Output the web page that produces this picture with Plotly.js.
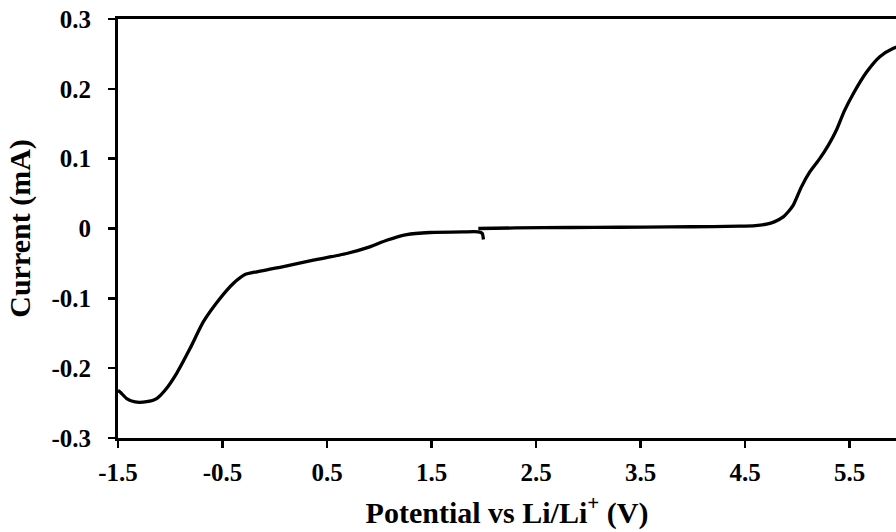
<!DOCTYPE html>
<html>
<head>
<meta charset="utf-8">
<script src="https://cdn.plot.ly/plotly-3.0.1.min.js"></script>
<style>
html,body{margin:0;padding:0;background:#fff;overflow:hidden;}
#chart{width:896px;height:532px;}
</style>
</head>
<body>
<div id="chart"></div>
<script>
// Segment 1: cathodic scan (OCV down to -1.5 V)
const potential1 = [-1.5, -1.48, -1.417, -1.337, -1.225, -1.13, -1.05, -0.94, -0.811, -0.684, -0.524, -0.397, -0.285, -0.173, -0.045, 0.05, 0.369, 0.688, 0.909, 1.071, 1.263, 1.486, 1.805, 1.948, 1.985, 1.997];
const current1   = [-0.232, -0.234, -0.2436, -0.2484, -0.248, -0.2436, -0.2317, -0.2077, -0.172, -0.1338, -0.1003, -0.0788, -0.066, -0.062, -0.0583, -0.0555, -0.0454, -0.0358, -0.0263, -0.0168, -0.0086, -0.0057, -0.0048, -0.0048, -0.007, -0.0158];
// Segment 2: anodic scan (OCV up to high potential)
const potential2 = [1.948, 2.3, 2.825, 3.3, 3.78, 4.2, 4.45, 4.6, 4.707, 4.78, 4.866, 4.92, 4.962, 5.04, 5.12, 5.215, 5.297, 5.375, 5.45, 5.536, 5.664, 5.79, 5.92, 6.0];
const current2   = [0.0, 0.0008, 0.0014, 0.0018, 0.0023, 0.0028, 0.0033, 0.0042, 0.0062, 0.0095, 0.0166, 0.025, 0.0334, 0.0596, 0.081, 0.100, 0.119, 0.141, 0.168, 0.193, 0.224, 0.246, 0.258, 0.262];

const xTicks = [-1.5, -0.5, 0.5, 1.5, 2.5, 3.5, 4.5, 5.5];
const yTicks = [-0.3, -0.2, -0.1, 0, 0.1, 0.2, 0.3];
const yTickText = ['-0.3', '-0.2', '-0.1', '0', '0.1', '0.2', '0.3'];

const lineStyle = {color: '#000', width: 3.3, shape: 'spline', smoothing: 0.6};
const traces = [
  {x: potential1, y: current1, mode: 'lines', line: lineStyle, hoverinfo: 'skip'},
  {x: potential2, y: current2, mode: 'lines', line: lineStyle, hoverinfo: 'skip'}
];

const fontFam = '"Liberation Serif", "Times New Roman", serif';
const layout = {
  width: 896, height: 532,
  margin: {l: 118, r: 0, t: 19, b: 94},
  paper_bgcolor: '#fff', plot_bgcolor: '#fff',
  showlegend: false,
  font: {family: fontFam, color: '#000'},
  xaxis: {
    range: [-1.5, 5.945], tickvals: xTicks, ticktext: xTicks.map(v => '<b>' + v.toFixed(1) + '</b>'),
    showgrid: false, zeroline: false,
    showline: true, linecolor: '#000', linewidth: 3, mirror: true,
    ticks: 'outside', ticklen: 7, tickwidth: 2.5, tickcolor: '#000',
    tickfont: {family: fontFam, size: 25, color: '#000'},
    ticklabelstandoff: 3,
    title: {text: '<b>Potential vs Li/Li<sup>+</sup> (V)</b>', font: {family: fontFam, size: 30, color: '#000'}, standoff: 17}
  },
  yaxis: {
    range: [-0.3, 0.3], tickvals: yTicks, ticktext: yTickText.map(t => '<b>' + t + '</b>'),
    showgrid: false, zeroline: false,
    showline: true, linecolor: '#000', linewidth: 3, mirror: false,
    ticks: 'outside', ticklen: 7, tickwidth: 2.5, tickcolor: '#000',
    tickfont: {family: fontFam, size: 25, color: '#000'},
    ticklabelstandoff: 12,
    title: {text: '<b>Current (mA)</b>', font: {family: fontFam, size: 30, color: '#000'}, standoff: 12}
  }
};

Plotly.newPlot('chart', traces, layout, {staticPlot: true, displayModeBar: false});
</script>
</body>
</html>
